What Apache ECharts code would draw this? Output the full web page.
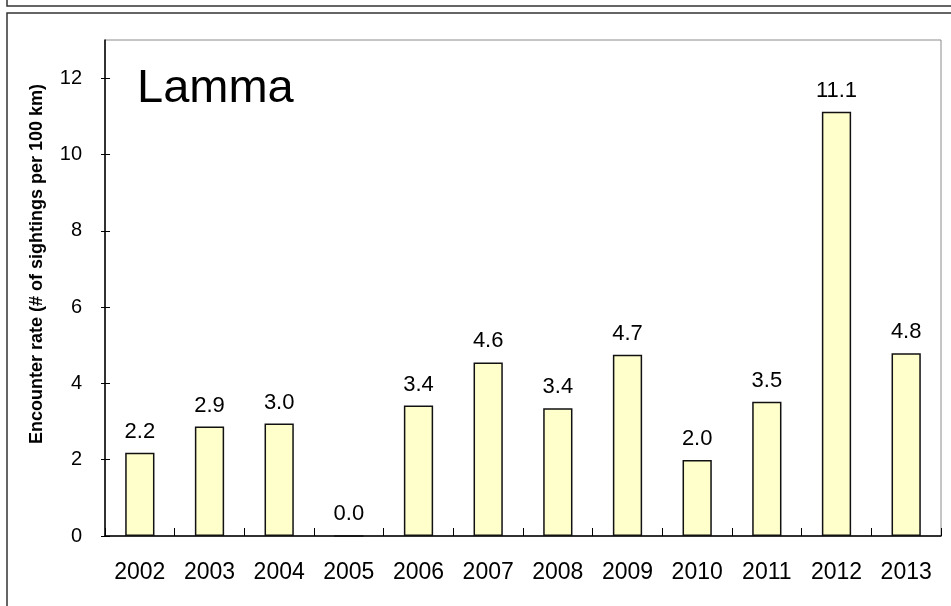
<!DOCTYPE html>
<html>
<head>
<meta charset="utf-8">
<script src="https://cdn.jsdelivr.net/npm/echarts@6/dist/echarts.min.js"></script>
<style>
  html, body { margin: 0; padding: 0; background: #fff; }
  #chart { width: 951px; height: 606px; }
</style>
</head>
<body>
<div id="chart"></div>
<script>
const years = ['2002', '2003', '2004', '2005', '2006', '2007', '2008', '2009', '2010', '2011', '2012', '2013']
const encounterRate = [2.18, 2.87, 2.95, 0, 3.42, 4.55, 3.35, 4.75, 1.99, 3.52, 11.12, 4.79]
const rateLabels = ['2.2', '2.9', '3.0', '0.0', '3.4', '4.6', '3.4', '4.7', '2.0', '3.5', '11.1', '4.8']
const yTickValues = [0, 2, 4, 6, 8, 10, 12]
const yMax = 13

const font = '"Liberation Sans", Arial, sans-serif'
const chart = echarts.init(document.getElementById('chart'))

chart.setOption({
  animation: false,
  backgroundColor: '#fff',
  grid: { left: 105, right: 10, top: 40, bottom: 70, show: true, borderColor: '#8c8c8c', borderWidth: 1 },
  xAxis: {
    type: 'category',
    data: years,
    axisLine: { lineStyle: { color: '#000', width: 1.5 } },
    axisTick: { show: true, inside: true, length: 8, lineStyle: { color: '#000', width: 1 } },
    axisLabel: { color: '#000', fontSize: 23, fontFamily: font, margin: 25 },
  },
  yAxis: [
    {
      type: 'value',
      min: 0, max: yMax,
      axisLine: { show: true, lineStyle: { color: '#000', width: 1.5 } },
      axisTick: { show: true, length: 4, customValues: yTickValues, lineStyle: { color: '#000' } },
      axisLabel: { color: '#000', fontSize: 20, fontFamily: font, margin: 23, customValues: yTickValues },
      splitLine: { show: false },
    },
    {
      type: 'value', position: 'left',
      min: 0, max: yMax,
      axisLine: { show: false },
      axisTick: { show: true, inside: true, length: 5, customValues: yTickValues, lineStyle: { color: '#000' } },
      axisLabel: { show: false },
      splitLine: { show: false },
    }
  ],
  graphic: [
    { type: 'rect', silent: true, shape: { x: 7, y: -20, width: 960, height: 26 }, style: { fill: 'none', stroke: '#333', lineWidth: 1.5 } },
    { type: 'rect', silent: true, shape: { x: 7, y: 13, width: 960, height: 620 }, style: { fill: 'none', stroke: '#333', lineWidth: 1.5 } },
    {
      type: 'text', left: 137, top: 66, silent: true,
      style: { text: 'Lamma', fill: '#000', fontSize: 47, fontFamily: font }
    },
    {
      type: 'text', x: 37, y: 264, rotation: Math.PI / 2, silent: true,
      style: {
        text: 'Encounter rate (# of sightings per 100 km)', fill: '#000',
        fontSize: 18, fontWeight: 'bold', fontFamily: font,
        align: 'center', verticalAlign: 'middle'
      }
    }
  ],
  series: [{
    type: 'bar',
    data: encounterRate,
    barWidth: '42%',
    itemStyle: { color: '#ffffcc', borderColor: '#111', borderWidth: 1.5 },
    label: {
      show: true, position: 'top', distance: 10,
      color: '#000', fontSize: 22, fontFamily: font,
      formatter: p => rateLabels[p.dataIndex]
    }
  }]
})
</script>
</body>
</html>
